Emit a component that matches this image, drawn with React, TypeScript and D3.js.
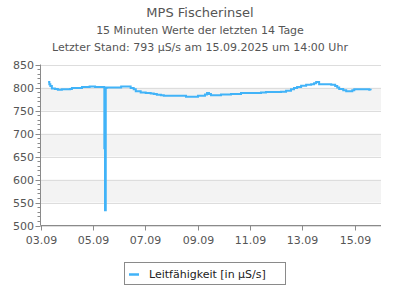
import React from 'react';
import * as d3 from 'd3';

// readings (hours since 03.09.2025 00:00) and conductivity in µS/s
const hours = [
    7.0, 8.1, 9.0, 10.4, 13.2, 15.9, 19.6, 27.0, 28.8, 38.0, 45.0, 50.0, 58.0,
    58.5, 59.1, 59.8, 60.5, 73.0, 73.9, 81.2, 82.6, 85.4, 87.3, 91.8, 96.4, 101.0,
    103.8, 106.6, 110.3, 113.0, 131.5, 133.3, 142.4, 144.3, 148.9, 150.7, 152.6,
    154.4, 156.2, 163.5, 165.4, 174.6, 183.7, 202.0, 206.6, 220.4, 225.0, 229.5,
    232.3, 235.1, 238.8, 243.4, 248.0, 250.7, 252.6, 255.3, 260.0, 266.4, 270.0,
    271.9, 273.7, 277.4, 280.1, 282.9, 285.7, 287.5, 294.8, 301.2, 302.5
];
const values = [
    812, 807, 803, 798, 797, 795, 796, 797, 799, 801, 802, 801, 801,
    668, 533, 799, 800, 800, 802, 802, 799, 796, 792, 789, 788, 787,
    786, 784, 783, 782, 782, 780, 780, 782, 782, 785, 788, 786, 783,
    783, 785, 786, 788, 789, 790, 791, 793, 796, 799, 801, 804, 806,
    807, 809, 812, 807, 807, 806, 803, 800, 797, 794, 792, 792, 794,
    796, 796, 795, 794
];

const yTicks = [500, 550, 600, 650, 700, 750, 800, 850];
const xTickDays = ['03.09', '05.09', '07.09', '09.09', '11.09', '13.09', '15.09'];
const bands = [[750, 800], [650, 700], [550, 600]];

const title = 'MPS Fischerinsel';
const subtitle = '15 Minuten Werte der letzten 14 Tage';
const status = 'Letzter Stand: 793 µS/s am 15.09.2025 um 14:00 Uhr';
const seriesName = 'Leitfähigkeit [in µS/s]';

const start = new Date(2025, 8, 3, 0, 0);
const end = new Date(2025, 8, 16, 0, 0);

const App: React.FC = () => {
    const margin = { left: 40.5, right: 381, top: 64.5, bottom: 225.5 };
    const lineColor = '#41b3f8';
    const axisColor = '#8a8a8a';
    const textColor = '#555';
    const font = 'DejaVu Sans, sans-serif';

    const x = d3.scaleTime().domain([start, end]).range([margin.left, margin.right]);
    const y = d3.scaleLinear().domain([500, 850]).range([margin.bottom, margin.top]);

    const points = hours.map((h, i) => ({
        t: new Date(start.getTime() + h * 3600 * 1000),
        v: values[i]
    }));

    const line = d3.line<{ t: Date; v: number }>()
        .x(d => x(d.t))
        .y(d => y(d.v))
        .curve(d3.curveStepAfter);

    const minorTicks = d3.range(500, 851, 10).filter(v => v % 50 !== 0);

    const parseDay = (s: string) => {
        const [dd, mm] = s.split('.').map(Number);
        return new Date(2025, mm - 1, dd, 0, 0);
    };

    return (
        <svg
            width={400}
            height={300}
            style={{ position: 'absolute', left: 0, top: 0, background: '#fff' }}
            fontFamily={font}
        >
            {/* titles */}
            <text x={200} y={17} textAnchor="middle" fontSize={13} fill={textColor}>{title}</text>
            <text x={200} y={34} textAnchor="middle" fontSize={11} fill={textColor}>{subtitle}</text>
            <text x={200} y={51} textAnchor="middle" fontSize={11} fill={textColor}>{status}</text>

            {/* alternating bands */}
            {bands.map(([lo, hi]) => (
                <rect
                    key={lo}
                    x={margin.left}
                    y={y(hi)}
                    width={margin.right - margin.left}
                    height={y(lo) - y(hi)}
                    fill="#f3f3f3"
                />
            ))}

            {/* grid lines */}
            {yTicks.map(v => (
                <line
                    key={v}
                    x1={margin.left}
                    x2={margin.right}
                    y1={Math.round(y(v)) + 0.5}
                    y2={Math.round(y(v)) + 0.5}
                    stroke="#dddddd"
                    strokeWidth={1}
                />
            ))}

            {/* series */}
            <path d={line(points) || ''} fill="none" stroke={lineColor} strokeWidth={2} />

            {/* y axis */}
            <line x1={margin.left} x2={margin.left} y1={margin.top} y2={margin.bottom} stroke={axisColor} />
            {yTicks.map(v => (
                <g key={v}>
                    <line x1={margin.left - 5} x2={margin.left} y1={Math.round(y(v)) + 0.5} y2={Math.round(y(v)) + 0.5} stroke={axisColor} />
                    <text x={34} y={y(v) + 4} textAnchor="end" fontSize={11} fill={textColor}>{v}</text>
                </g>
            ))}
            {minorTicks.map(v => (
                <line key={v} x1={margin.left - 3} x2={margin.left} y1={Math.round(y(v)) + 0.5} y2={Math.round(y(v)) + 0.5} stroke={axisColor} />
            ))}

            {/* x axis */}
            <line x1={margin.left} x2={margin.right} y1={margin.bottom} y2={margin.bottom} stroke={axisColor} />
            {xTickDays.map(s => {
                const px = Math.round(x(parseDay(s))) + 0.5;
                return (
                    <g key={s}>
                        <line x1={px} x2={px} y1={margin.bottom} y2={margin.bottom + 5} stroke={axisColor} />
                        <text x={px} y={244} textAnchor="middle" fontSize={11} fill={textColor}>{s}</text>
                    </g>
                );
            })}

            {/* legend */}
            <rect x={124.5} y={262.5} width={161} height={22} fill="#fff" stroke={axisColor} />
            <line x1={129} x2={139} y1={274.5} y2={274.5} stroke={lineColor} strokeWidth={2.5} />
            <text x={149} y={278} fontSize={11} fill="#222">{seriesName}</text>
        </svg>
    );
};

export default App;
